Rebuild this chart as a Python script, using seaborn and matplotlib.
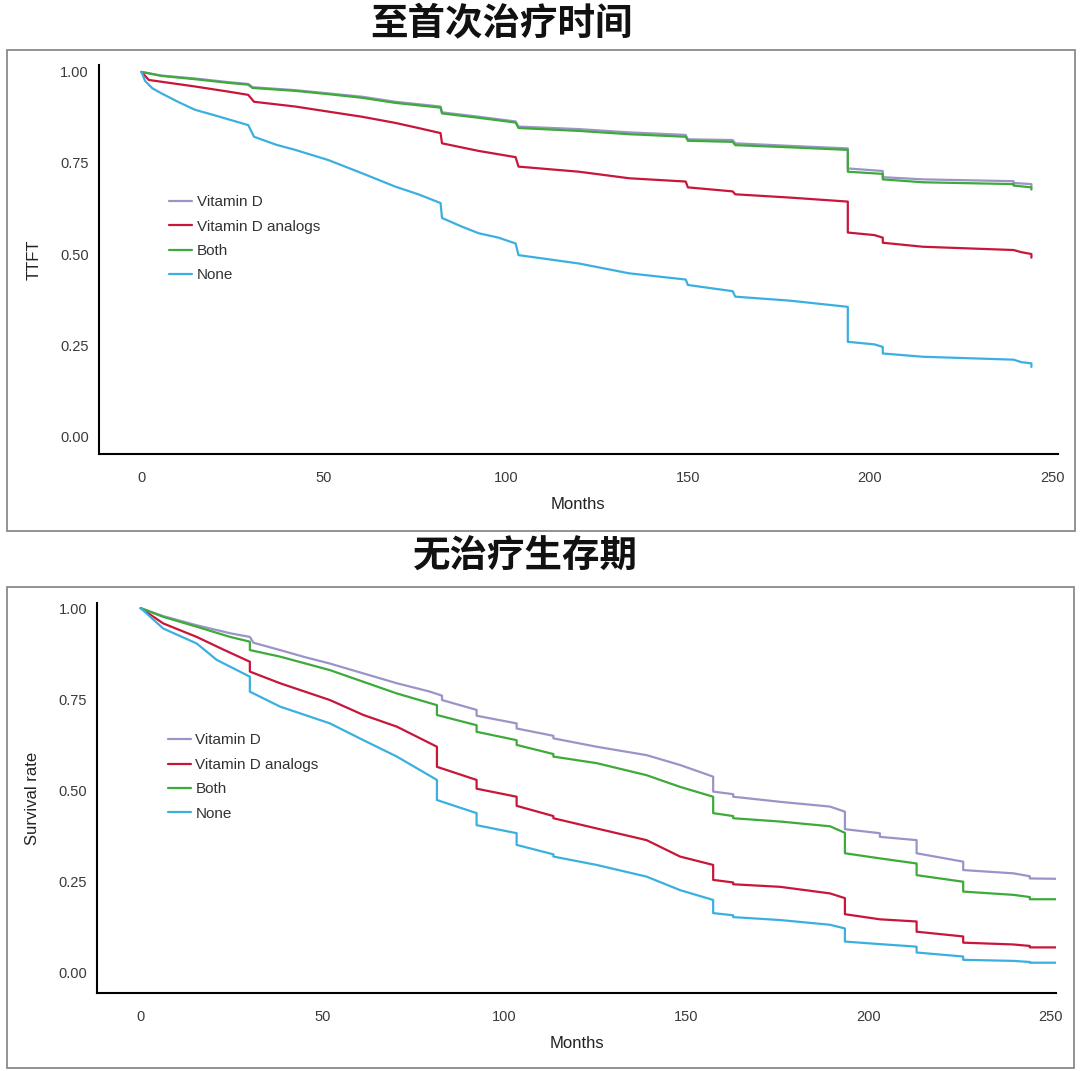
import numpy as np
import pandas as pd
import seaborn as sns
import matplotlib
matplotlib.use("Agg")
import matplotlib.pyplot as plt
from matplotlib.patches import Rectangle

# ---- data: curve points (months, value); a repeated month is a vertical drop
groups = ["Vitamin D", "Vitamin D analogs", "Both", "None"]
colors = ["#9B94C8", "#C8163B", "#3DAA3A", "#3BB0E0"]

# panel 1: time to first treatment (TTFT)
ttft_vitd_t = [0, 5.5, 14.7, 23.8, 29.3, 30.5, 42.2, 51.3, 60.5, 69.7, 82.1, 82.5, 92.6, 102.7, 103.5, 120.1,
               133.9, 149.4, 150, 162.3, 163, 178, 193.9, 193.9, 203.5, 203.5, 214.5, 239.4, 239.4, 244.3, 244.3]
ttft_vitd_s = [1.0, 0.99, 0.982, 0.972, 0.967, 0.958, 0.950, 0.941, 0.932, 0.918, 0.905, 0.889, 0.877, 0.864,
               0.850, 0.843, 0.834, 0.827, 0.815, 0.813, 0.804, 0.797, 0.790, 0.735, 0.728, 0.711, 0.705, 0.700,
               0.695, 0.692, 0.686]

ttft_both_t = [0, 5.5, 14.7, 23.8, 29.3, 30.5, 42.2, 51.3, 60.5, 69.7, 82.1, 82.5, 92.6, 102.7, 103.5, 120.1,
               133.9, 149.4, 150, 162.3, 163, 178, 193.9, 193.9, 203.5, 203.5, 214.5, 239.4, 239.4, 244.3, 244.3]
ttft_both_s = [1.0, 0.989, 0.980, 0.970, 0.965, 0.956, 0.948, 0.939, 0.929, 0.915, 0.902, 0.886, 0.874, 0.861,
               0.846, 0.838, 0.829, 0.822, 0.811, 0.808, 0.799, 0.793, 0.786, 0.726, 0.720, 0.705, 0.697, 0.692,
               0.688, 0.683, 0.677]

ttft_analog_t = [0, 2, 5.5, 14.7, 23.8, 29.3, 30.9, 42.2, 51.3, 60.5, 69.7, 76, 82.1, 82.5, 92.6, 102.7, 103.5,
                 120.1, 133.9, 149.4, 150, 162.3, 163, 178, 193.9, 193.9, 201.2, 203.5, 203.5, 214.5, 239.4,
                 241.6, 244.3, 244.3]
ttft_analog_s = [1.0, 0.978, 0.973, 0.960, 0.946, 0.937, 0.918, 0.905, 0.891, 0.877, 0.860, 0.846, 0.832, 0.804,
                 0.783, 0.766, 0.740, 0.726, 0.708, 0.699, 0.683, 0.672, 0.664, 0.655, 0.644, 0.559, 0.552, 0.545,
                 0.531, 0.520, 0.511, 0.505, 0.500, 0.490]

ttft_none_t = [0, 1, 3, 5.5, 10, 14.7, 19, 23.8, 29.3, 30.9, 37, 42.2, 51.3, 60.5, 69.7, 76, 82.1, 82.5, 88, 92.6,
               98, 102.7, 103.5, 110, 120.1, 133.9, 149.4, 150, 162.3, 163, 178, 193.9, 193.9, 201.2, 203.5, 203.5,
               214.5, 239.4, 241.6, 244.3, 244.3]
ttft_none_s = [1.0, 0.975, 0.955, 0.941, 0.918, 0.896, 0.884, 0.870, 0.854, 0.822, 0.800, 0.786, 0.758, 0.722,
               0.685, 0.664, 0.640, 0.599, 0.575, 0.557, 0.545, 0.529, 0.497, 0.488, 0.474, 0.447, 0.430, 0.415,
               0.398, 0.383, 0.372, 0.355, 0.259, 0.252, 0.245, 0.227, 0.218, 0.210, 0.203, 0.200, 0.190]

# panel 2: treatment-free survival
tfs_vitd_t = [0, 6.2, 15.4, 24.6, 30, 31, 38.3, 45, 52, 61.2, 70.4, 79.5, 82.8, 82.8, 92.3, 92.3, 103.3, 103.3,
              113.4, 113.4, 125.3, 139, 148.2, 157.3, 157.3, 162.8, 162.8, 175.7, 189.4, 193.5, 193.5, 203.1, 203.1,
              213.2, 213.2, 226, 226, 239.8, 244.3, 244.3, 252]
tfs_vitd_s = [1.0, 0.978, 0.953, 0.931, 0.921, 0.905, 0.885, 0.866, 0.848, 0.821, 0.794, 0.771, 0.760, 0.748,
              0.721, 0.705, 0.684, 0.670, 0.650, 0.643, 0.620, 0.597, 0.570, 0.538, 0.497, 0.490, 0.483, 0.469,
              0.456, 0.442, 0.394, 0.383, 0.373, 0.364, 0.328, 0.305, 0.282, 0.273, 0.265, 0.259, 0.258]

tfs_both_t = [0, 6.2, 15.4, 24.6, 30, 30, 38.3, 52, 61.2, 70.4, 81.4, 81.4, 92.3, 92.3, 103.3, 103.3, 113.4, 113.4,
              125.3, 139, 148.2, 157.3, 157.3, 162.8, 162.8, 175.7, 189.4, 193.5, 193.5, 203.1, 213.2, 213.2, 226,
              226, 239.8, 244.3, 244.3, 252]
tfs_both_s = [1.0, 0.976, 0.949, 0.921, 0.908, 0.885, 0.867, 0.830, 0.798, 0.766, 0.734, 0.707, 0.679, 0.661,
              0.638, 0.625, 0.600, 0.593, 0.575, 0.542, 0.510, 0.483, 0.438, 0.430, 0.424, 0.415, 0.402, 0.384,
              0.328, 0.314, 0.300, 0.268, 0.250, 0.223, 0.214, 0.208, 0.202, 0.202]

tfs_analog_t = [0, 6.2, 15.4, 23, 30, 30, 38.3, 52, 61.2, 70.4, 81.4, 81.4, 92.3, 92.3, 103.3, 103.3, 113.4, 113.4,
                125.3, 139, 148.2, 157.3, 157.3, 162.8, 162.8, 175.7, 189.4, 193.5, 193.5, 203.1, 213.2, 213.2,
                226, 226, 239.8, 244.3, 244.3, 252]
tfs_analog_s = [1.0, 0.958, 0.921, 0.885, 0.853, 0.826, 0.794, 0.748, 0.707, 0.675, 0.620, 0.565, 0.529, 0.505,
                0.483, 0.458, 0.430, 0.424, 0.396, 0.364, 0.319, 0.296, 0.255, 0.248, 0.243, 0.236, 0.218, 0.205,
                0.161, 0.147, 0.141, 0.113, 0.100, 0.083, 0.078, 0.074, 0.070, 0.070]

tfs_none_t = [0, 6.2, 15.4, 20.9, 30, 30, 38.3, 52, 61.2, 70.4, 81.4, 81.4, 92.3, 92.3, 103.3, 103.3, 113.4, 113.4,
              125.3, 139, 148.2, 157.3, 157.3, 162.8, 162.8, 175.7, 189.4, 193.5, 193.5, 203.1, 213.2, 213.2, 226,
              226, 239.8, 244.3, 244.3, 252]
tfs_none_s = [1.0, 0.944, 0.903, 0.858, 0.812, 0.771, 0.730, 0.684, 0.638, 0.593, 0.529, 0.474, 0.438, 0.405,
              0.383, 0.351, 0.325, 0.319, 0.296, 0.264, 0.227, 0.200, 0.164, 0.158, 0.153, 0.145, 0.132, 0.122,
              0.086, 0.079, 0.072, 0.056, 0.045, 0.036, 0.033, 0.030, 0.028, 0.028]

x_ticks = [0, 50, 100, 150, 200, 250]
y_ticks = [0.00, 0.25, 0.50, 0.75, 1.00]
titles = ["至首次治疗时间", "无治疗生存期"]
ylabels = ["TTFT", "Survival rate"]


def long_df(series):
    parts = []
    for name, t, s in series:
        parts.append(pd.DataFrame({"Months": t, "value": s, "group": name}))
    return pd.concat(parts, ignore_index=True)


df1 = long_df([("Vitamin D", ttft_vitd_t, ttft_vitd_s),
               ("Vitamin D analogs", ttft_analog_t, ttft_analog_s),
               ("Both", ttft_both_t, ttft_both_s),
               ("None", ttft_none_t, ttft_none_s)])
df2 = long_df([("Vitamin D", tfs_vitd_t, tfs_vitd_s),
               ("Vitamin D analogs", tfs_analog_t, tfs_analog_s),
               ("Both", tfs_both_t, tfs_both_s),
               ("None", tfs_none_t, tfs_none_s)])

sns.set_style("white")
plt.rcParams["font.family"] = ["Liberation Sans", "DejaVu Sans"]

W, H = 1080, 1071
fig = plt.figure(figsize=(W / 100, H / 100), dpi=100)

# grey frame around each panel
for (x0, y0, x1, y1) in [(7, 50, 1075, 531), (7, 587, 1074, 1068)]:
    fig.patches.append(Rectangle((x0 / W, 1 - y1 / H), (x1 - x0) / W, (y1 - y0) / H,
                                 transform=fig.transFigure, fill=False, edgecolor="#8a8a8a", lw=1.3))

# axes boxes in pixels: left, right, top, bottom
boxes = [(98.5, 1058, 65, 454), (97, 1056, 603, 993)]
xlims = [(-11.8, 251.6), (-12.0, 251.5)]
ylims = [(-0.049, 1.019), (-0.055, 1.014)]
title_pos = [(502, 24), (525, 556)]

for i, df in enumerate([df1, df2]):
    l, r, t, b = boxes[i]
    ax = fig.add_axes([l / W, 1 - b / H, (r - l) / W, (b - t) / H])
    sns.lineplot(data=df, x="Months", y="value", hue="group", hue_order=groups,
                 palette=colors, estimator=None, sort=False, lw=1.6, ax=ax, legend=False)
    ax.set_xlim(*xlims[i])
    ax.set_ylim(*ylims[i])
    ax.set_xticks(x_ticks)
    ax.set_yticks(y_ticks)
    ax.set_yticklabels([f"{v:.2f}" for v in y_ticks])
    for side in ["top", "right"]:
        ax.spines[side].set_visible(False)
    for side in ["left", "bottom"]:
        ax.spines[side].set_color("black")
        ax.spines[side].set_linewidth(1.5)
    ax.tick_params(axis="both", direction="out", length=4, width=1.1, color="black",
                   labelsize=10.5, labelcolor="#3a3a3a")
    ax.tick_params(axis="x", pad=8)
    ax.tick_params(axis="y", pad=3)
    ax.set_xlabel("Months", fontsize=12, color="#222222")
    ax.set_ylabel(ylabels[i], fontsize=12, color="#222222")
    ax.xaxis.set_label_coords(0.5, -0.11)
    ax.yaxis.set_label_coords(-0.059, 0.5)

    handles = [plt.Line2D([], [], color=c, lw=1.6) for c in colors]
    ax.legend(handles, groups, loc="upper left", bbox_to_anchor=(0.066, 0.685), frameon=False,
              fontsize=11, handlelength=1.5, handletextpad=0.3, labelspacing=0.68,
              borderpad=0, labelcolor="#333333")

    tx, ty = title_pos[i]
    fig.text(tx / W, 1 - ty / H, titles[i], ha="center", va="center", fontsize=27,
             fontweight="bold", family=["Noto Sans CJK SC", "DejaVu Sans"], color="#111111")

fig.savefig("out.png", dpi=100)
